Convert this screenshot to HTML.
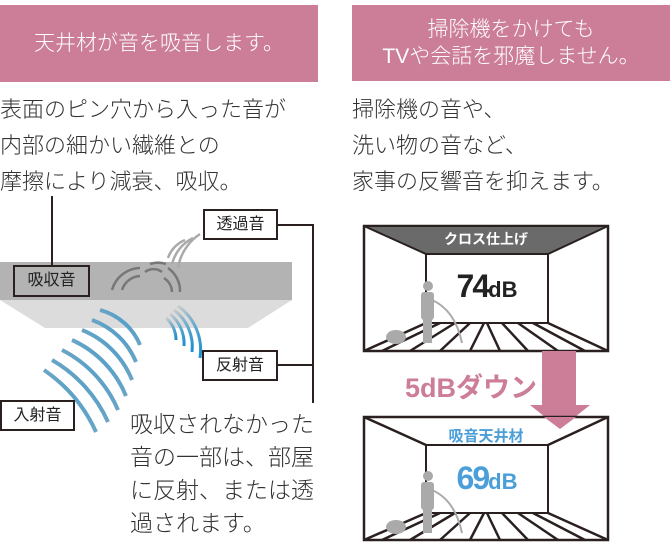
<!DOCTYPE html>
<html><head><meta charset="utf-8"><style>
*{margin:0;padding:0;box-sizing:border-box}
body{width:670px;height:546px;background:#fff;position:relative;overflow:hidden;font-family:"Liberation Sans","Noto Sans CJK JP",sans-serif;color:#333}
.a{position:absolute;white-space:nowrap}
.hd{background:#cc7d97;color:#fff;font-size:21px;text-align:center;display:flex;align-items:center;justify-content:center;line-height:27px;font-weight:300}
.bt{font-size:22px;line-height:36px;color:#333;font-weight:300}
.lb{border:2px solid #2a2020;background:#fff;font-size:16px;text-align:center;line-height:27px;color:#222}
</style></head><body>
<div class="a hd" style="left:0;top:5px;width:318px;height:77px"><span>天井材が音を吸音します。</span></div>
<div class="a hd" style="left:352px;top:5px;width:318px;height:76px"><span>掃除機をかけても<br>TVや会話を邪魔しません。</span></div>
<div class="a bt" style="left:0;top:92px">表面のピン穴から入った音が<br>内部の細かい繊維との<br>摩擦により減衰、吸収。</div>
<div class="a bt" style="left:352px;top:92px">掃除機の音や、<br>洗い物の音など、<br>家事の反響音を抑えます。</div>

<svg class="a" style="left:0;top:0" width="670" height="546">
<defs>
<linearGradient id="gb" x1="0" y1="1" x2="1" y2="0"><stop offset="0" stop-color="#bbb"/><stop offset="1" stop-color="#1a8fd0"/></linearGradient>
<linearGradient id="gr" x1="0" y1="0" x2="1" y2="1"><stop offset="0" stop-color="#ccc"/><stop offset="1" stop-color="#1a8fd0"/></linearGradient>
</defs>
<rect x="0" y="262" width="292" height="38" fill="#b3b3b3"/>
<polygon points="0,300 292,300 248,328 45,328" fill="#dcdcdc"/>
<line x1="52" y1="196" x2="52" y2="265" stroke="#2a2020" stroke-width="2"/>
<polyline points="278,225 313,225 313,403" fill="none" stroke="#2a2020" stroke-width="2"/>
<line x1="278" y1="365" x2="313" y2="365" stroke="#2a2020" stroke-width="2"/>
<g fill="none" stroke="url(#gb)" stroke-width="4">
<path d="M100,310 A60,60 0 0 1 140,345"/>
<path d="M92,320 A75,75 0 0 1 136,362"/>
<path d="M82,330 A90,90 0 0 1 132,380"/>
<path d="M72,340 A105,105 0 0 1 126,396"/>
<path d="M62,350 A120,120 0 0 1 118,410"/>
<path d="M52,360 A135,135 0 0 1 108,422"/>
<path d="M44,370 A150,150 0 0 1 96,432"/>
</g>
<g fill="none" stroke="url(#gr)" stroke-width="3">
<path d="M166,318 A30,30 0 0 1 176,340"/>
<path d="M170,314 A38,38 0 0 1 184,346"/>
<path d="M174,310 A46,46 0 0 1 192,352"/>
<path d="M178,306 A54,54 0 0 1 200,358"/>
</g>
<g fill="none" stroke="#777" stroke-width="2.5">
<path d="M112,290 A30,30 0 0 1 140,268"/>
<path d="M122,290 A20,20 0 0 1 140,276"/>
<path d="M150,264 A24,24 0 0 1 166,264"/>
<path d="M145,272 A14,14 0 0 1 162,272"/>
<path d="M168,268 A28,28 0 0 1 180,292"/>
<path d="M164,278 A18,18 0 0 1 172,292"/>
</g>
<g fill="none" stroke="#aaa" stroke-width="2.5">
<path d="M168,258 A30,30 0 0 1 185,240"/>
<path d="M172,264 A40,40 0 0 1 193,238"/>
<path d="M178,268 A50,50 0 0 1 200,234"/>
</g>
<!-- Room 1 -->
<rect x="364" y="226" width="244" height="125" fill="#fff" stroke="#2a2020" stroke-width="2.5"/>
<polygon points="364,226 608,226 548,254 426,254" fill="#6a6a6a" stroke="#2a2020" stroke-width="2"/>
<rect x="426" y="254" width="122" height="69" fill="#fff" stroke="#2a2020" stroke-width="2"/>
<g stroke="#2a2020" stroke-width="2.5">
<line x1="364" y1="351" x2="426" y2="323"/><line x1="608" y1="351" x2="548" y2="323"/>
<line x1="382" y1="351" x2="440" y2="323"/><line x1="410" y1="351" x2="455" y2="323"/><line x1="440" y1="351" x2="470" y2="323"/><line x1="470" y1="351" x2="484" y2="323"/><line x1="500" y1="351" x2="487" y2="323"/><line x1="528" y1="351" x2="502" y2="323"/><line x1="558" y1="351" x2="518" y2="323"/><line x1="585" y1="351" x2="533" y2="323"/>
</g>
<g fill="#aaa"><circle cx="428" cy="286" r="5"/><rect x="421" y="292" width="13" height="28" rx="3"/><rect x="423" y="316" width="9" height="27"/><ellipse cx="396" cy="337" rx="10" ry="7"/></g>
<path d="M432,300 Q455,310 462,343" stroke="#aaa" fill="none" stroke-width="2"/>
<polygon points="542,351 576,351 576,405 590,405 560,429 530,405 542,405" fill="#cc7d97"/>
<!-- Room 2 -->
<rect x="364" y="417" width="244" height="123" fill="#fff" stroke="#2a2020" stroke-width="2.5"/>
<g stroke="#2a2020" stroke-width="2.5" fill="none">
<line x1="364" y1="417" x2="426" y2="445"/><line x1="608" y1="417" x2="548" y2="445"/>
<rect x="426" y="445" width="122" height="68" stroke-width="2"/>
<line x1="364" y1="540" x2="426" y2="513"/><line x1="608" y1="540" x2="548" y2="513"/>
<line x1="382" y1="540" x2="440" y2="513"/><line x1="410" y1="540" x2="455" y2="513"/><line x1="440" y1="540" x2="470" y2="513"/><line x1="470" y1="540" x2="484" y2="513"/><line x1="500" y1="540" x2="487" y2="513"/><line x1="528" y1="540" x2="502" y2="513"/><line x1="558" y1="540" x2="518" y2="513"/><line x1="585" y1="540" x2="533" y2="513"/>
</g>
<polygon points="544,417 576,417 560,429" fill="#cc7d97"/>
<g fill="#aaa"><circle cx="428" cy="476" r="5"/><rect x="421" y="482" width="13" height="28" rx="3"/><rect x="423" y="506" width="9" height="27"/><ellipse cx="396" cy="527" rx="10" ry="7"/></g>
<path d="M432,490 Q455,500 462,533" stroke="#aaa" fill="none" stroke-width="2"/>
</svg>
<div class="a" style="left:364px;top:229px;width:244px;text-align:center;color:#fff;font-size:14px;font-weight:bold">クロス仕上げ</div>
<div class="a" style="left:426px;top:268px;width:122px;text-align:center;color:#222;font-size:32px;font-weight:bold;letter-spacing:-2px">74<span style="font-size:22px;letter-spacing:0">dB</span></div>
<div class="a" style="left:405px;top:366px;color:#cc7d97;font-size:27px;font-weight:bold">5dBダウン</div>
<div class="a" style="left:364px;top:425px;width:244px;text-align:center;color:#4a9fd8;font-size:15px;font-weight:bold">吸音天井材</div>
<div class="a" style="left:426px;top:460px;width:122px;text-align:center;color:#4a9fd8;font-size:32px;font-weight:bold;letter-spacing:-2px">69<span style="font-size:22px;letter-spacing:0">dB</span></div>

<div class="a lb" style="left:13px;top:265px;width:77px;height:32px;background:#b3b3b3">吸収音</div>
<div class="a lb" style="left:203px;top:209px;width:75px;height:31px">透過音</div>
<div class="a lb" style="left:202px;top:350px;width:76px;height:31px">反射音</div>
<div class="a lb" style="left:0;top:400px;width:75px;height:31px">入射音</div>
<div class="a" style="left:130px;top:408px;font-size:23px;line-height:33px;color:#333;font-weight:300">吸収されなかった<br>音の一部は、部屋<br>に反射、または透<br>過されます。</div>
</body></html>
